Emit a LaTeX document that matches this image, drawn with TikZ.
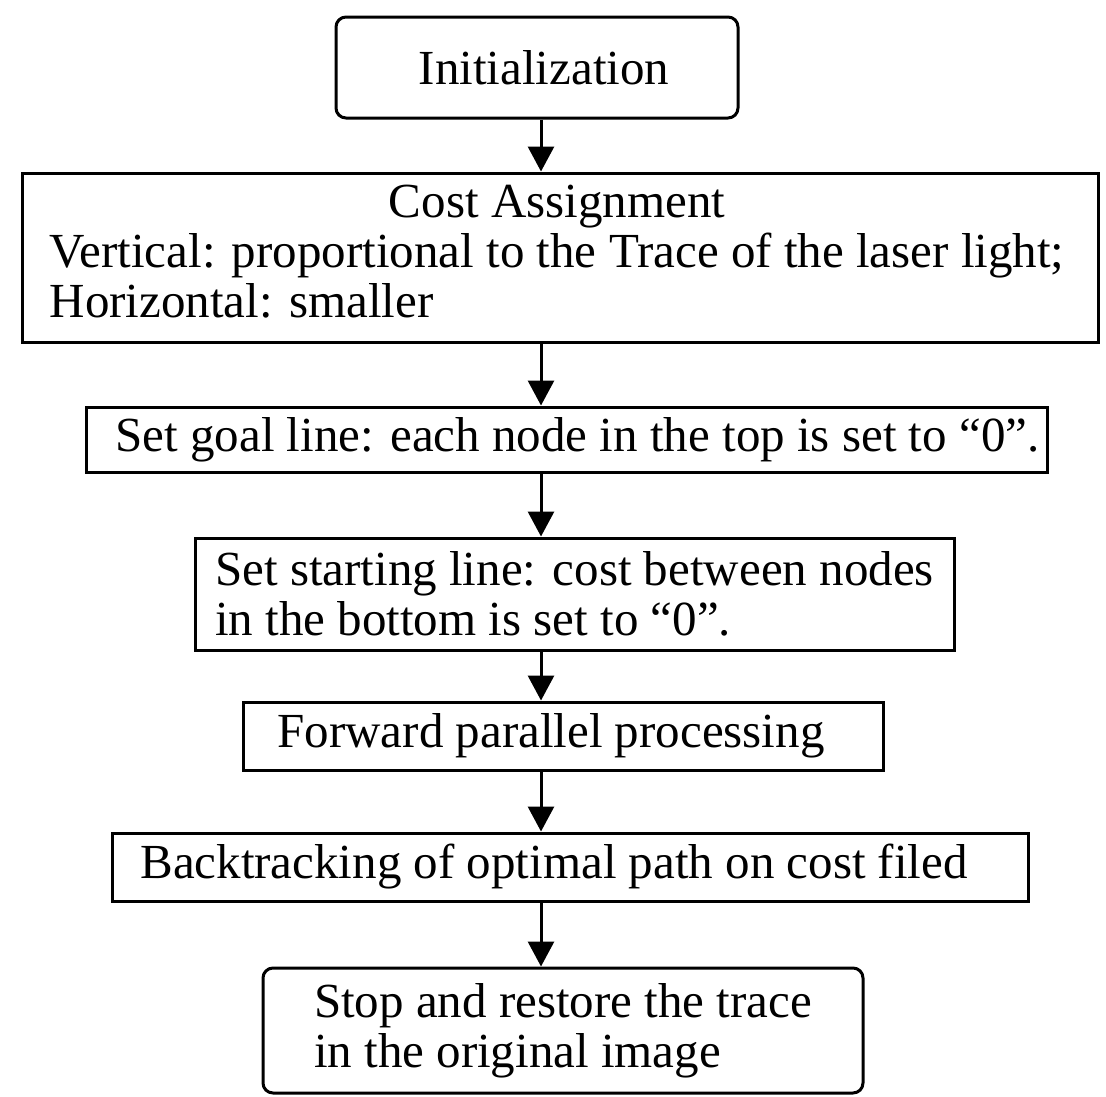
\documentclass[tikz,border=0pt]{standalone}
\usepackage{fontspec}
\setmainfont{Liberation Serif}
\usetikzlibrary{arrows.meta}
\begin{document}
\begin{tikzpicture}[x=1pt,y=-1pt,
  box/.style={draw,line width=3pt,inner sep=0pt,font=\fontsize{49}{50}\selectfont,align=left},
  rbox/.style={box,rounded corners=10pt},
  flow/.style={line width=3pt,-{Triangle[width=26pt,length=25pt]}}]
\useasboundingbox (0,0) rectangle (1106,1096);
\coordinate (ax) at (541,0);
\node[rbox,minimum width=402pt,minimum height=101pt] (b1) at (537,67.5) {\hspace*{14pt}Initialization};
\node[box,minimum width=1076pt,minimum height=169pt] (b2) at (560,257.5)
  {\begin{tabular}{@{}l@{}}\multicolumn{1}{@{}c@{}}{Cost Assignment}\\
   Vertical: proportional to the Trace of the laser light;\\
   Horizontal: smaller\end{tabular}\hspace*{6pt}};
\node[box,minimum width=961pt,minimum height=65pt] (b3) at (566.5,439.5)
  {\hspace*{22pt}Set goal line: each node in the top is set to “0”.};
\node[box,minimum width=759pt,minimum height=112pt] (b4) at (574.5,594)
  {Set starting line: cost between nodes\\in the bottom is set to “0”.};
\node[box,minimum width=640pt,minimum height=68pt] (b5) at (563,736)
  {Forward parallel processing\hspace*{24pt}};
\node[box,minimum width=916pt,minimum height=68pt] (b6) at (570,867)
  {Backtracking of optimal path on cost filed\hspace*{32pt}};
\node[rbox,minimum width=600pt,minimum height=125pt] (b7) at (563,1030.5)
  {Stop and restore the trace\\in the original image\hspace*{14pt}};
\draw[flow] (b1.south -| ax) -- (b2.north -| ax);
\draw[flow] (b2.south -| ax) -- (b3.north -| ax);
\draw[flow] (b3.south -| ax) -- (b4.north -| ax);
\draw[flow] (b4.south -| ax) -- (b5.north -| ax);
\draw[flow] (b5.south -| ax) -- (b6.north -| ax);
\draw[flow] (b6.south -| ax) -- (b7.north -| ax);
\end{tikzpicture}
\end{document}
